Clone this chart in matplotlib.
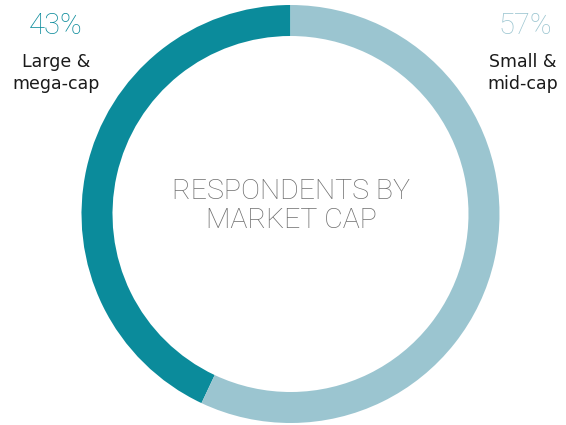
import matplotlib
matplotlib.use("Agg")
import matplotlib.pyplot as plt

labels = ["Large &\nmega-cap", "Small &\nmid-cap"]
values = [43, 57]
pct_labels = ["43%", "57%"]
colors = ["#0b8b9b", "#9bc5d0"]
center_title = "RESPONDENTS BY\nMARKET CAP"

W, H = 566, 425
fig = plt.figure(figsize=(W / 100, H / 100), dpi=100)
ax = fig.add_axes([0, 0, 1, 1])

cx, cy, R, width = 290.5, H - 214, 209, 31
ax.pie(values, colors=colors, startangle=90, counterclock=True,
       center=(cx, cy), radius=R, wedgeprops=dict(width=width, linewidth=0),
       frame=True)
ax.set_xlim(0, W)
ax.set_ylim(0, H)
ax.set_aspect("equal")
ax.axis("off")

ax.text(cx + 1, H - 206, center_title, ha="center", va="center",
        fontsize=20.5, color="#6e6e6e", family="Roboto", fontweight="light",
        linespacing=1.1)

# left labels
ax.text(56, H - 26, pct_labels[0], ha="center", va="center", fontsize=21,
        color=colors[0], family="Roboto", fontweight="light")
ax.text(56, H - 73, labels[0], ha="center", va="center", fontsize=12.5,
        color="#1a1a1a", family="DejaVu Sans", linespacing=1.35)
# right labels
ax.text(525, H - 26, pct_labels[1], ha="center", va="center", fontsize=21,
        color=colors[1], family="Roboto", fontweight="light")
ax.text(523, H - 73, labels[1], ha="center", va="center", fontsize=12.5,
        color="#1a1a1a", family="DejaVu Sans", linespacing=1.35)

fig.savefig("out.png", dpi=100)
